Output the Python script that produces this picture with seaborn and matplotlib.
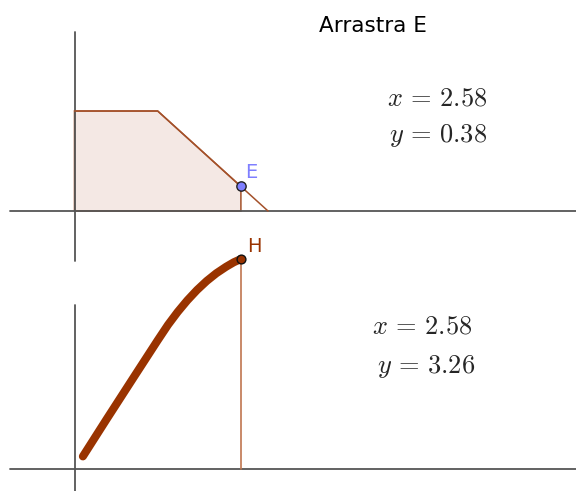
import numpy as np
import matplotlib
matplotlib.use("Agg")
import matplotlib.pyplot as plt
import pandas as pd
import seaborn as sns

# values (units of the drawing)
trap_x = [0.0, 1.29, 3.0]
trap_y = [1.55, 1.55, 0.0]
area_x = [0.0, 0.0, 1.29, 2.58, 2.58]
area_y = [0.0, 1.55, 1.55, 0.38, 0.0]
E_x, E_y = 2.58, 0.38

curve_x = [0.13, 0.5, 0.92, 1.29, 1.45, 1.6, 1.75, 1.9, 2.05, 2.2, 2.35, 2.47, 2.58]
curve_y = [0.2, 0.78, 1.43, 2.0, 2.24, 2.44, 2.62, 2.78, 2.92, 3.04, 3.14, 3.21, 3.26]
H_x, H_y = 2.58, 3.26

sns.set_style("white")
plt.rcParams["mathtext.fontset"] = "cm"

W, H = 576, 491
px = 64.5  # pixels per unit
ox = 74.5  # pixel column of the y axis

fig = plt.figure(figsize=(W / 100, H / 100), dpi=100)

def make_axes(top_px, bot_px, axis_px):
    ax = fig.add_axes([0, 1 - bot_px / H, 1, (bot_px - top_px) / H])
    ax.set_xlim(-ox / px, (W - ox) / px)
    ax.set_ylim(-(bot_px - axis_px) / px, (axis_px - top_px) / px)
    ax.set_facecolor("none")
    ax.axis("off")
    return ax

brown = "#a4512a"
dark = "#993300"
axcol = "#555555"

# top panel
ax1 = make_axes(0, 300, 211)
ax1.plot([-1.0, 10], [0, 0], color=axcol, lw=1.3)
ax1.plot([0, 0], [(211 - 32) / px, -(261 - 211) / px], color=axcol, lw=1.3)
ax1.fill(area_x, area_y, facecolor="#f4e8e4", edgecolor=brown, lw=1.1)
sns.lineplot(x=trap_x, y=trap_y, sort=False, estimator=None, color=brown, lw=1.1, ax=ax1)
sns.scatterplot(x=[E_x], y=[E_y], s=45, color="#7f7fff", edgecolor="#222222", linewidth=1, zorder=5, ax=ax1)
ax1.text(E_x + 0.07, E_y + (186.7 - 178) / px, "E", color="#7f7fff", fontsize=14, ha="left", va="baseline")

# bottom panel
ax2 = make_axes(230, 491, 469.3)
ax2.plot([-1.0, 10], [0, 0], color=axcol, lw=1.3)
ax2.plot([0, 0], [(469.3 - 305) / px, -1], color=axcol, lw=1.3)
ax2.plot([H_x, H_x], [0, H_y], color="#c0764f", lw=1.2)
sns.lineplot(x=curve_x, y=curve_y, sort=False, estimator=None, color=dark, lw=5.8,
             solid_capstyle="round", ax=ax2)
sns.scatterplot(x=[H_x], y=[H_y], s=40, color=dark, edgecolor="#111111", linewidth=1, zorder=5, ax=ax2)
ax2.text(H_x + 0.1, H_y + (259 - 251.7) / px, "H", color=dark, fontsize=14, ha="left", va="baseline")

def ftext(x, y, s, **kw):
    fig.text(x / W, 1 - y / H, s, **kw)

ftext(373, 32, "Arrastra E", fontsize=15.5, ha="center", va="baseline", color="black")
ftext(487, 105, r"$x \,=\, 2.58$", fontsize=19, ha="right", va="baseline")
ftext(487, 142, r"$y \,=\, 0.38$", fontsize=19, ha="right", va="baseline")
ftext(472, 334, r"$x \,=\, 2.58$", fontsize=19, ha="right", va="baseline")
ftext(475, 373, r"$y \,=\, 3.26$", fontsize=19, ha="right", va="baseline")

fig.savefig("out.png", dpi=100)
